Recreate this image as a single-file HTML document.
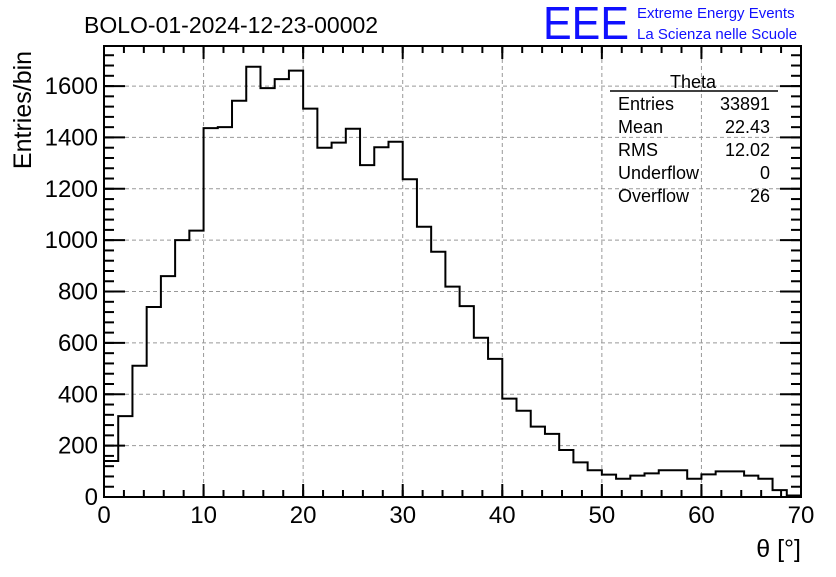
<!DOCTYPE html>
<html><head><meta charset="utf-8"><style>
body{margin:0;background:#fff;}
svg text{font-family:"Liberation Sans",sans-serif;}
</style></head><body>
<svg id="c" width="836" height="572" xmlns="http://www.w3.org/2000/svg">
<text x="84" y="33" font-size="23">BOLO-01-2024-12-23-00002</text>
<text x="543" y="39" font-size="46" fill="#1010ff" textLength="86" lengthAdjust="spacingAndGlyphs">EEE</text>
<text x="637" y="18" font-size="15" fill="#1010ff">Extreme Energy Events</text>
<text x="637" y="39" font-size="15" fill="#1010ff">La Scienza nelle Scuole</text>
<g id="grid"></g>
<path id="hist" fill="none" stroke="#000" stroke-width="2"/>
<rect x="104" y="46" width="697" height="451" fill="none" stroke="#000" stroke-width="2"/>
<g id="ticks" stroke="#000" stroke-width="2"></g>
<g id="labels" font-size="24"></g>
<text transform="translate(31,110) rotate(-90)" font-size="25" text-anchor="middle">Entries/bin</text>
<text x="801" y="557" font-size="25" text-anchor="end">θ [°]</text>
<g font-size="18">
<text x="693" y="88" text-anchor="middle">Theta</text>
<line x1="610" y1="91" x2="778" y2="91" stroke="#000" stroke-width="1.5"/>
<text x="618" y="110">Entries</text><text x="770" y="110" text-anchor="end">33891</text>
<text x="618" y="133">Mean</text><text x="770" y="133" text-anchor="end">22.43</text>
<text x="618" y="156">RMS</text><text x="770" y="156" text-anchor="end">12.02</text>
<text x="618" y="179">Underflow</text><text x="770" y="179" text-anchor="end">0</text>
<text x="618" y="202">Overflow</text><text x="770" y="202" text-anchor="end">26</text>
</g>
</svg>
<script>
const counts=[140,315,511,740,860,1000,1037,1436,1440,1543,1675,1592,1627,1660,1512,1360,1380,1434,1292,1362,1383,1237,1052,955,819,743,620,538,383,336,274,246,183,135,104,87,71,83,92,104,104,71,88,100,100,83,71,27,6];
const xMin=0,xMax=70,yMin=0,yMax=1756;
const xTicks=[0,10,20,30,40,50,60,70];
const yTicks=[0,200,400,600,800,1000,1200,1400,1600];
const X0=104,X1=801,Y0=497,Y1=46;
const sx=v=>X0+(v-xMin)/(xMax-xMin)*(X1-X0);
const sy=v=>Y0-(v-yMin)/(yMax-yMin)*(Y0-Y1);
const ns="http://www.w3.org/2000/svg";
function mk(t,a,p){const e=document.createElementNS(ns,t);for(const k in a)e.setAttribute(k,a[k]);p.appendChild(e);return e;}
const bw=(xMax-xMin)/counts.length;
let d="M"+sx(0)+","+sy(0);
counts.forEach((c,i)=>{d+=" L"+sx(i*bw)+","+sy(c)+" L"+sx((i+1)*bw)+","+sy(c);});
d+=" L"+sx(xMax)+","+sy(0);
document.getElementById('hist').setAttribute('d',d);
const g=document.getElementById('grid'),tk=document.getElementById('ticks'),lb=document.getElementById('labels');
xTicks.forEach(v=>{
 const x=sx(v);
 if(v>xMin&&v<xMax){const l=mk('line',{x1:x,x2:x,y1:Y0,y2:Y1,stroke:'#999','stroke-dasharray':'4,3','stroke-width':1},g);
 
 }
 mk('line',{x1:x,x2:x,y1:Y0,y2:Y0-13},tk);mk('line',{x1:x,x2:x,y1:Y1,y2:Y1+13},tk);
 const t=mk('text',{x:x,y:523,'text-anchor':'middle'},lb);t.textContent=v;
 
 
});
for(let v=xMin;v<=xMax;v+=2){const x=sx(v);mk('line',{x1:x,x2:x,y1:Y0,y2:Y0-7},tk);mk('line',{x1:x,x2:x,y1:Y1,y2:Y1+7},tk);}
yTicks.forEach(v=>{
 const y=sy(v);
 if(v>yMin){const l=mk('line',{x1:X0,x2:X1,y1:y,y2:y,stroke:'#999','stroke-dasharray':'4,3','stroke-width':1},g);
 
 }
 mk('line',{x1:X0,x2:X0+21,y1:y,y2:y},tk);mk('line',{x1:X1,x2:X1-21,y1:y,y2:y},tk);
 const t=mk('text',{x:98,y:y+8,'text-anchor':'end'},lb);t.textContent=v;
 
 
});
for(let v=yMin;v<=yMax;v+=40){const y=sy(v);mk('line',{x1:X0,x2:X0+10,y1:y,y2:y},tk);mk('line',{x1:X1,x2:X1-10,y1:y,y2:y},tk);}
</script>
</body></html>
